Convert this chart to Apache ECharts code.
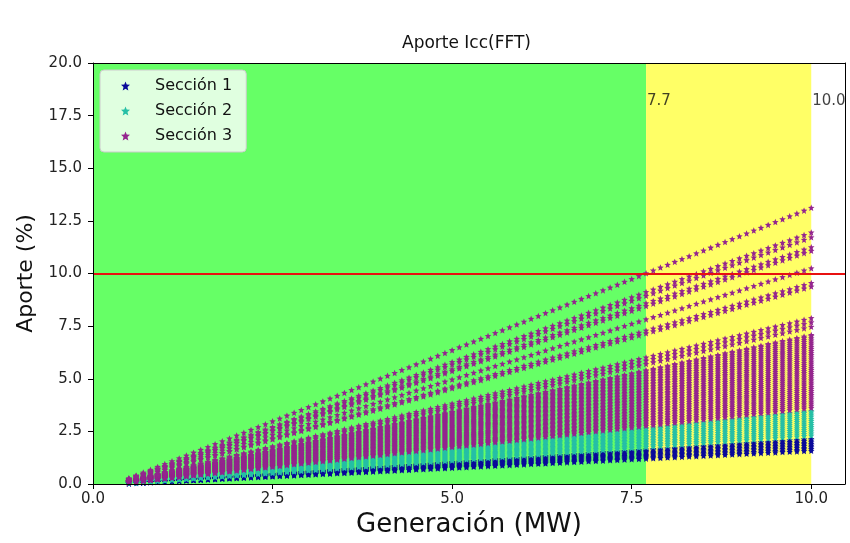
<!DOCTYPE html>
<html>
<head>
<meta charset="utf-8">
<script src="https://cdn.jsdelivr.net/npm/echarts@6/dist/echarts.min.js"></script>
<style>
html,body{margin:0;padding:0;background:#fff;}
#chart{width:850px;height:543px;}
</style>
</head>
<body>
<div id="chart"></div>
<script>
// ---- data ----
// generation grid (MW)
var generation = [0.5,0.6,0.7,0.8,0.9,1.0,1.1,1.2,1.3,1.4,1.5,1.6,1.7,1.8,1.9,2.0,2.1,2.2,2.3,2.4,2.5,2.6,2.7,2.8,2.9,3.0,3.1,3.2,3.3,3.4,3.5,3.6,3.7,3.8,3.9,4.0,4.1,4.2,4.3,4.4,4.5,4.6,4.7,4.8,4.9,5.0,5.1,5.2,5.3,5.4,5.5,5.6,5.7,5.8,5.9,6.0,6.1,6.2,6.3,6.4,6.5,6.6,6.7,6.8,6.9,7.0,7.1,7.2,7.3,7.4,7.5,7.6,7.7,7.8,7.9,8.0,8.1,8.2,8.3,8.4,8.5,8.6,8.7,8.8,8.9,9.0,9.1,9.2,9.3,9.4,9.5,9.6,9.7,9.8,9.9,10.0];
// generation at which every case starts from zero contribution
var startGen = 0.3;
var endGen = 10.0;
// contribution (%) of each case at 10 MW, per section
var seccion1End = [1.58,1.66,1.74,1.82,1.90,1.98,2.06,2.14];
var seccion2End = [2.30,2.40,2.50,2.60,2.70,2.80,2.90,3.00,3.10,3.20,3.30,3.40,3.48];
var seccion3End = [3.62,3.72,3.82,3.92,4.02,4.12,4.22,4.32,4.42,4.52,4.62,4.72,4.82,4.92,5.02,5.12,5.22,5.32,5.42,5.52,5.62,5.72,5.82,5.92,6.02,6.12,6.22,6.32,6.42,6.52,6.62,6.72,6.82,6.92,7.02,7.08,
                   7.47,7.68,7.88,9.38,9.55,10.25,11.08,11.25,11.72,11.95,13.12];
var seriesNames = ['Sección 1','Sección 2','Sección 3'];
var zoneLimits = [0, 7.7, 10.0];
var zoneLabels = ['7.7','10.0'];
var limitValue = 10;
var xTicks = [0, 2.5, 5, 7.5, 10];

function buildPoints(ends){
  var pts = [];
  for (var i=0;i<ends.length;i++){
    for (var j=0;j<generation.length;j++){
      var g = generation[j];
      pts.push([g, ends[i]*(g-startGen)/(endGen-startGen)]);
    }
  }
  return pts;
}

// plump five-pointed star
var star = 'path://M50,0 L63,32 L98,35 L71,58 L80,95 L50,76 L20,95 L29,58 L2,35 L37,32 Z';
var colors = ['#0a0a9a','#26bfa6','#94258e'];
var font = 'DejaVu Sans';

var chart = echarts.init(document.getElementById('chart'), null, {renderer:'canvas'});
var scatterSeries = [seccion1End, seccion2End, seccion3End].map(function(ends, k){
  return {
    name: seriesNames[k], type:'scatter', symbol: star, symbolSize: 6.5,
    data: buildPoints(ends), itemStyle:{color: colors[k], opacity:1},
    z: 3, silent:true, large:false
  };
});

var plainAxis = {
  z: 20,
  axisLine:{show:true, onZero:false, lineStyle:{color:'#000', width:1}},
  axisTick:{show:false}, axisLabel:{show:false}, splitLine:{show:false}
};

var option = {
  animation:false,
  textStyle:{fontFamily: font},
  title:{text:'Aporte Icc(FFT)', left:397, top:30, textStyle:{fontFamily:font, fontSize:17, fontWeight:'normal', color:'#111'}},
  legend:{
    data: seriesNames, orient:'vertical', left:100, top:70,
    icon: star, itemWidth:9, itemHeight:9, itemGap:9,
    padding:[8,14,8,21],
    backgroundColor:'rgba(255,255,255,0.8)', borderColor:'#cccccc', borderWidth:1, borderRadius:4,
    textStyle:{fontFamily:font, fontSize:16, color:'#111', lineHeight:16, padding:[0,0,0,20]}
  },
  grid:{left:93, right:5, top:63, bottom:59, show:false},
  xAxis:[{
    type:'value', min:0, max:10.47, position:'bottom', z:20,
    name:'Generación (MW)', nameLocation:'middle', nameGap:25,
    nameTextStyle:{fontFamily:font, fontSize:26, color:'#111'},
    axisLine:{show:true, onZero:false, lineStyle:{color:'#000', width:1}},
    axisTick:{show:true, length:5, customValues:xTicks, lineStyle:{color:'#000'}},
    axisLabel:{customValues:xTicks, fontFamily:font, fontSize:15, color:'#222', margin:8,
      formatter:function(v){return v.toFixed(1);}},
    splitLine:{show:false}
  }, Object.assign({type:'value', min:0, max:10.47, position:'top'}, plainAxis)],
  yAxis:[{
    type:'value', min:0, max:20, interval:2.5, z:20,
    name:'Aporte (%)', nameLocation:'middle', nameGap:50,
    nameTextStyle:{fontFamily:font, fontSize:22, color:'#111'},
    axisLine:{show:true, onZero:false, lineStyle:{color:'#000', width:1}},
    axisTick:{show:true, length:5, lineStyle:{color:'#000'}},
    axisLabel:{fontFamily:font, fontSize:15, color:'#222', margin:11,
      formatter:function(v){return v.toFixed(1);}},
    splitLine:{show:false}
  }, Object.assign({type:'value', min:0, max:20, position:'right'}, plainAxis)],
  series: [
    {
      name:'zonas', type:'scatter', data:[], z:1, silent:true,
      markArea:{silent:true, label:{show:false},
        data:[
          [{xAxis:zoneLimits[0], itemStyle:{color:'#66ff66', opacity:1}}, {xAxis:zoneLimits[1]}],
          [{xAxis:zoneLimits[1], itemStyle:{color:'#ffff66', opacity:1}}, {xAxis:zoneLimits[2]}]
        ]}
    }
  ].concat(scatterSeries).concat([
    {
      name:'limite', type:'scatter', data:[], z:5, silent:true,
      markLine:{silent:true, symbol:['none','none'], label:{show:false},
        lineStyle:{color:'#e81010', width:2, type:'solid'},
        data:[{yAxis:limitValue}]}
    },
    {
      name:'etiquetas', type:'scatter', z:6, silent:true, symbolSize:0,
      data:[[zoneLimits[1], 18.2, zoneLabels[0]],[zoneLimits[2], 18.2, zoneLabels[1]]],
      clip:false,
      label:{show:true, position:'right', distance:1, fontFamily:font, fontSize:15, color:'#111',
        formatter:function(p){return p.data[2];}}
    }
  ])
};
chart.setOption(option);
</script>
</body>
</html>
